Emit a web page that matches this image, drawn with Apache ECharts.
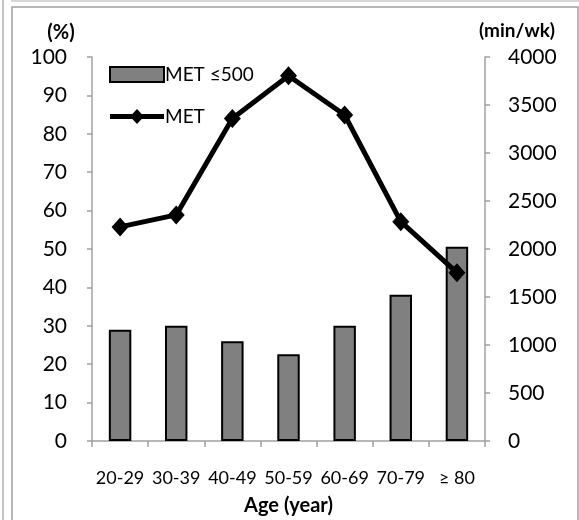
<!DOCTYPE html>
<html>
<head>
<meta charset="utf-8">
<script src="https://cdn.jsdelivr.net/npm/echarts@6/dist/echarts.min.js"></script>
<style>html,body{margin:0;padding:0;background:#fff;}#c{width:579px;height:520px;}</style>
</head>
<body>
<div id="c"></div>
<script>
var categories = ['20-29', '30-39', '40-49', '50-59', '60-69', '70-79', '\u2265 80'];
var metLow500 = [29.0, 30.0, 26.0, 22.6, 30.0, 38.1, 50.6];
var metMinWk = [2230, 2355, 3360, 3805, 3396, 2285, 1753];
var leftTicks = { min: 0, max: 100, interval: 10 };
var rightTicks = { min: 0, max: 4000, interval: 500 };

var FONT = 'Lato';
var AXIS_COLOR = '#a0a0a0';
var LINE_ICON = 'path://M0,5L22.33,5L27,0L31.67,5L54,5L54,10L31.67,10L27,15L22.33,10L0,10Z';
var chart = echarts.init(document.getElementById('c'), null, { renderer: 'canvas' });
chart.setOption({
  animation: false,
  backgroundColor: '#fff',
  textStyle: { fontFamily: FONT, color: '#000' },
  graphic: [
    { type: 'line', shape: { x1: 3, y1: 0, x2: 3, y2: 520 }, style: { stroke: '#b0b0b0', lineWidth: 1.5 } },
    { type: 'line', shape: { x1: 11, y1: 1, x2: 579, y2: 1 }, style: { stroke: '#c8c8c8', lineWidth: 1.5 } },
    { type: 'rect', shape: { x: 12, y: 7, width: 566, height: 520 }, style: { fill: 'none', stroke: '#a0a0a0', lineWidth: 1.5 } }
  ],
  legend: {
    orient: 'vertical',
    left: 104,
    top: 60,
    itemWidth: 54,
    itemHeight: 15,
    itemGap: 23,
    textStyle: { fontFamily: FONT, fontSize: 19, color: '#000', padding: [0, 0, 0, -4] },
    data: [
      { name: 'MET \u2264500', icon: 'rect', itemStyle: { color: '#808080', borderColor: '#000', borderWidth: 2 } },
      { name: 'MET', icon: LINE_ICON, itemStyle: { color: '#000', borderWidth: 0 } }
    ]
  },
  grid: { left: 92, right: 94, top: 57, bottom: 79, containLabel: false, outerBoundsMode: 'none' },
  xAxis: {
    type: 'category',
    data: categories,
    boundaryGap: true,
    name: 'Age (year)',
    nameLocation: 'middle',
    nameGap: 55,
    nameTextStyle: { fontFamily: FONT, fontSize: 20, fontWeight: 'bold', color: '#000' },
    axisLine: { lineStyle: { color: AXIS_COLOR, width: 1.5 } },
    axisTick: { show: true, length: 6, lineStyle: { color: AXIS_COLOR, width: 1.5 } },
    axisLabel: { margin: 28, fontFamily: FONT, fontSize: 18, color: '#000', interval: 0 }
  },
  yAxis: [
    {
      type: 'value',
      min: leftTicks.min, max: leftTicks.max, interval: leftTicks.interval,
      name: '(%)',
      nameLocation: 'end',
      nameGap: 14,
      nameTextStyle: { fontFamily: FONT, fontSize: 20, fontWeight: 'bold', color: '#000', align: 'center', padding: [0, 62, 0, 0] },
      axisLine: { show: true, lineStyle: { color: AXIS_COLOR, width: 1.5 } },
      axisTick: { show: true, length: 5, lineStyle: { color: AXIS_COLOR, width: 1.5 } },
      axisLabel: { margin: 25, fontFamily: FONT, fontSize: 21, color: '#000' },
      splitLine: { show: false }
    },
    {
      type: 'value',
      position: 'right',
      min: rightTicks.min, max: rightTicks.max, interval: rightTicks.interval,
      name: '(min/wk)',
      nameLocation: 'end',
      nameGap: 17,
      nameTextStyle: { fontFamily: FONT, fontSize: 19, fontWeight: 'bold', color: '#000', align: 'center', padding: [0, 0, 0, 64] },
      axisLine: { show: true, lineStyle: { color: AXIS_COLOR, width: 1.5 } },
      axisTick: { show: true, length: 5, lineStyle: { color: AXIS_COLOR, width: 1.5 } },
      axisLabel: { margin: 23, fontFamily: FONT, fontSize: 21, color: '#000', formatter: function (v) { return String(v); } },
      splitLine: { show: false }
    }
  ],
  series: [
    {
      name: 'MET \u2264500',
      type: 'bar',
      yAxisIndex: 0,
      data: metLow500,
      barCategoryGap: '60%',
      itemStyle: { color: '#808080', borderColor: '#000', borderWidth: 2 }
    },
    {
      name: 'MET',
      type: 'line',
      yAxisIndex: 1,
      data: metMinWk,
      symbol: 'diamond',
      symbolSize: [17, 19],
      lineStyle: { color: '#000', width: 5 },
      itemStyle: { color: '#000' }
    }
  ]
});
</script>
</body>
</html>
